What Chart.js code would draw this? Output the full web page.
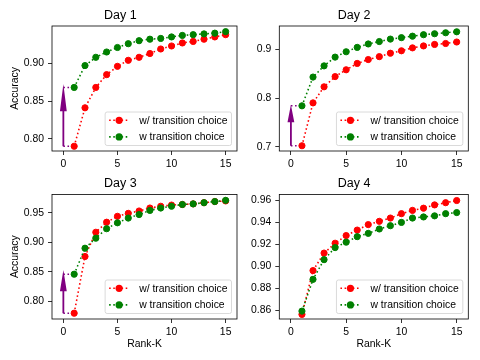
<!DOCTYPE html>
<html>
<head>
<meta charset="utf-8">
<script src="https://cdn.jsdelivr.net/npm/chart.js@4/dist/chart.umd.min.js"></script>
<style>
  html, body { margin: 0; padding: 0; background: #fff; }
  #fig { position: relative; width: 480px; height: 360px; overflow: hidden; }
  #fig canvas { position: absolute; }
</style>
</head>
<body>
<div id="fig"></div>
<script>
// values
var rankK = [1, 2, 3, 4, 5, 6, 7, 8, 9, 10, 11, 12, 13, 14, 15];
var xTicks = [0, 5, 10, 15];
var seriesLabels = ['w/ transition choice', 'w transition choice'];
var dayTitles = ['Day 1', 'Day 2', 'Day 3', 'Day 4'];

var day1Red   = [0.790, 0.841, 0.868, 0.885, 0.896, 0.904, 0.908, 0.913, 0.919, 0.923, 0.927, 0.929, 0.932, 0.935, 0.938];
var day1Green = [0.868, 0.897, 0.908, 0.915, 0.921, 0.926, 0.930, 0.932, 0.933, 0.935, 0.937, 0.938, 0.939, 0.940, 0.942];
var day2Red   = [0.702, 0.790, 0.823, 0.844, 0.858, 0.871, 0.879, 0.885, 0.892, 0.897, 0.903, 0.907, 0.910, 0.912, 0.915];
var day2Green = [0.784, 0.843, 0.866, 0.884, 0.895, 0.904, 0.911, 0.916, 0.921, 0.924, 0.927, 0.930, 0.932, 0.934, 0.936];
var day3Red   = [0.780, 0.876, 0.917, 0.934, 0.944, 0.949, 0.953, 0.958, 0.961, 0.963, 0.964, 0.965, 0.967, 0.969, 0.970];
var day3Green = [0.846, 0.890, 0.907, 0.923, 0.933, 0.941, 0.947, 0.954, 0.958, 0.961, 0.964, 0.965, 0.967, 0.969, 0.971];
var day4Red   = [0.856, 0.896, 0.912, 0.921, 0.928, 0.933, 0.938, 0.941, 0.944, 0.948, 0.951, 0.953, 0.956, 0.958, 0.960];
var day4Green = [0.859, 0.888, 0.906, 0.917, 0.922, 0.927, 0.930, 0.934, 0.937, 0.940, 0.944, 0.945, 0.946, 0.948, 0.949];

var day1Ticks = [0.80, 0.85, 0.90];
var day2Ticks = [0.7, 0.8, 0.9];
var day3Ticks = [0.80, 0.85, 0.90, 0.95];
var day4Ticks = [0.86, 0.88, 0.90, 0.92, 0.94, 0.96];

// top of the purple arrow at rank 0 (null = no arrow)
var arrowTips = [0.8725, 0.786, 0.853, null];

Chart.defaults.font.family = '"Liberation Sans", Arial, sans-serif';
Chart.defaults.color = '#000';

var RED = '#ff0000', GREEN = '#008000', PURPLE = '#800080';
var DOT = [1.56, 2.58];
var TICK_FONT = { size: 10.4 };

// layout of the 2x2 grid (px)
var cols = [
  { left: 0,   width: 242, yAxisW: 52,   padRight: 1.5 },
  { left: 240, width: 240, yAxisW: 39.3, padRight: 11.7 }
];
var rows = [
  { top: 0,   height: 172, titlePad: { top: 8.5, bottom: 2.5 }, xAxisH: 21 },
  { top: 172, height: 188, titlePad: { top: 4,   bottom: 3.5 }, xAxisH: 41 }
];

var panels = [
  { red: day1Red, green: day1Green, ticks: day1Ticks, dec: 2, min: 0.7837, max: 0.9495, col: 0, row: 0 },
  { red: day2Red, green: day2Green, ticks: day2Ticks, dec: 1, min: 0.6912, max: 0.9479, col: 1, row: 0 },
  { red: day3Red, green: day3Green, ticks: day3Ticks, dec: 2, min: 0.7702, max: 0.9809, col: 0, row: 1 },
  { red: day4Red, green: day4Green, ticks: day4Ticks, dec: 2, min: 0.8518, max: 0.9655, col: 1, row: 1 }
];

function points(arr) {
  return rankK.map(function (k, i) { return { x: k, y: arr[i] }; });
}

var framePlugin = {
  id: 'frame',
  afterDatasetsDraw: function (chart) {
    var a = chart.chartArea, ctx = chart.ctx;
    ctx.save();
    ctx.strokeStyle = '#000';
    ctx.lineWidth = 0.8;
    ctx.strokeRect(a.left, a.top, a.right - a.left, a.bottom - a.top);
    ctx.restore();
  }
};

var arrowPlugin = {
  id: 'arrow',
  beforeDatasetsDraw: function (chart, args, opts) {
    if (opts.to == null) return;
    var xs = chart.scales.x, ys = chart.scales.y, ctx = chart.ctx;
    var x = xs.getPixelForValue(opts.x);
    var yb = ys.getPixelForValue(opts.from);
    var yt = ys.getPixelForValue(opts.to);
    var yh = ys.getPixelForValue(opts.to - opts.head);
    var hw = 3.4, sw = 0.9;
    ctx.save();
    ctx.fillStyle = PURPLE;
    ctx.beginPath();
    ctx.moveTo(x, yt);
    ctx.lineTo(x + hw, yh);
    ctx.lineTo(x + sw, yh);
    ctx.lineTo(x + sw, yb);
    ctx.lineTo(x - sw, yb);
    ctx.lineTo(x - sw, yh);
    ctx.lineTo(x - hw, yh);
    ctx.closePath();
    ctx.fill();
    ctx.restore();
  }
};

var legendPlugin = {
  id: 'legendBox',
  afterDraw: function (chart) {
    var ctx = chart.ctx, a = chart.chartArea;
    var sets = chart.data.datasets.filter(function (d) { return d.label; });
    ctx.save();
    ctx.font = '10.4px "Liberation Sans", Arial, sans-serif';
    var tw = Math.max.apply(null, sets.map(function (d) { return ctx.measureText(d.label).width; }));
    var w = 4 + 20 + 10 + tw + 4, h = 33.5;
    var x = a.right - 5.5 - w, y = a.bottom - 5.5 - h;
    ctx.beginPath();
    ctx.roundRect(x, y, w, h, 2);
    ctx.fillStyle = 'rgba(255,255,255,0.8)';
    ctx.fill();
    ctx.strokeStyle = '#d0d0d0';
    ctx.lineWidth = 0.8;
    ctx.stroke();
    sets.forEach(function (d, i) {
      var cy = y + 8.3 + i * 16.6;
      ctx.strokeStyle = d.borderColor;
      ctx.lineWidth = d.borderWidth;
      ctx.setLineDash(d.borderDash);
      ctx.beginPath();
      ctx.moveTo(x + 4, cy);
      ctx.lineTo(x + 24, cy);
      ctx.stroke();
      ctx.setLineDash([]);
      ctx.beginPath();
      ctx.arc(x + 14, cy, d.pointRadius + 0.5, 0, Math.PI * 2);
      ctx.fillStyle = d.backgroundColor;
      ctx.fill();
      ctx.fillStyle = '#000';
      ctx.textBaseline = 'middle';
      ctx.fillText(d.label, x + 34, cy + 0.5);
    });
    ctx.restore();
  }
};

var fig = document.getElementById('fig');

panels.forEach(function (p, n) {
  var c = cols[p.col], r = rows[p.row];
  var cv = document.createElement('canvas');
  cv.width = c.width;
  cv.height = r.height;
  cv.style.left = c.left + 'px';
  cv.style.top = r.top + 'px';
  fig.appendChild(cv);

  var series = function (label, arr, color, order) {
    return {
      label: label, data: points(arr), order: order,
      borderColor: color, backgroundColor: color,
      borderWidth: 1.56, borderDash: DOT, borderCapStyle: 'butt',
      pointRadius: 3.1, pointBorderWidth: 1, pointBackgroundColor: color, pointBorderColor: color,
      fill: false, tension: 0
    };
  };
  var guide = function (v) {
    return {
      data: [{ x: 0, y: v }, { x: rankK[0], y: v }], order: 5,
      borderColor: PURPLE, borderWidth: 1.56, borderDash: DOT, pointRadius: 0, fill: false
    };
  };

  var datasets = [series(seriesLabels[0], p.red, RED, 2), series(seriesLabels[1], p.green, GREEN, 1)];
  if (arrowTips[n] != null) {
    datasets.push(guide(p.red[0]), guide(p.green[0]));
  }

  var fmt = function (v) { return Number(v).toFixed(p.dec); };

  new Chart(cv.getContext('2d'), {
    type: 'line',
    data: { datasets: datasets },
    plugins: [arrowPlugin, framePlugin, legendPlugin],
    options: {
      responsive: false,
      animation: false,
      events: [],
      layout: { padding: { left: 0, right: c.padRight, top: 0, bottom: 0 } },
      plugins: {
        legend: { display: false },
        tooltip: { enabled: false },
        title: {
          display: true, text: dayTitles[n], color: '#000',
          font: { size: 12.5, weight: 'normal', lineHeight: 1.2 },
          padding: r.titlePad
        },
        arrow: { x: 0, from: p.red[0], to: arrowTips[n], head: 0.036 }
      },
      scales: {
        x: {
          type: 'linear', min: -1.05, max: 16.05,
          afterBuildTicks: function (s) { s.ticks = xTicks.map(function (v) { return { value: v }; }); },
          afterFit: function (s) { s.height = r.xAxisH; },
          ticks: { font: TICK_FONT, padding: 3, maxRotation: 0, autoSkip: false,
                   callback: function (v) { return String(v); } },
          grid: { display: true, drawOnChartArea: false, drawTicks: true, tickLength: 4, color: '#000', lineWidth: 0.8 },
          border: { display: false },
          title: { display: p.row === 1, text: 'Rank-K', font: { size: 10.4, lineHeight: 1.2 },
                   padding: { top: 0, bottom: 9.8 } }
        },
        y: {
          type: 'linear', min: p.min, max: p.max,
          afterBuildTicks: function (s) { s.ticks = p.ticks.map(function (v) { return { value: v }; }); },
          afterFit: function (s) { s.width = c.yAxisW; },
          ticks: { font: TICK_FONT, padding: 4, autoSkip: false, callback: fmt },
          grid: { display: true, drawOnChartArea: false, drawTicks: true, tickLength: 4, color: '#000', lineWidth: 0.8 },
          border: { display: false },
          title: { display: p.col === 0, text: 'Accuracy', font: { size: 10.4, lineHeight: 1.2 },
                   padding: { top: 8.8, bottom: 0 } }
        }
      }
    }
  });
});
</script>
</body>
</html>
